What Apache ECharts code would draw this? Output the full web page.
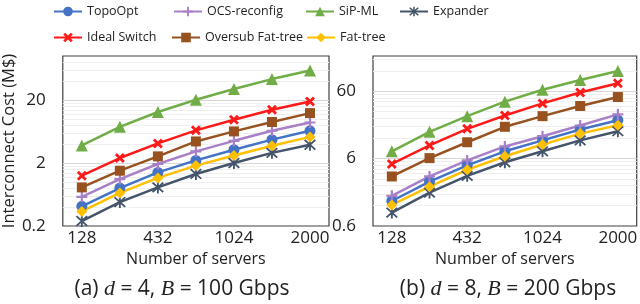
<!DOCTYPE html>
<html>
<head>
<meta charset="utf-8">
<script src="https://cdn.jsdelivr.net/npm/echarts@6/dist/echarts.min.js"></script>
<style>
  html, body { margin: 0; padding: 0; background: #fff; }
  #chart { width: 640px; height: 304px; }
</style>
</head>
<body>
<div id="chart"></div>
<script>
// number of servers (k^3/4), every other one labelled
const servers = ["128", "250", "432", "686", "1024", "1458", "2000"];

// (a) d = 4, B = 100 Gbps
const topoA    = [0.41, 0.80, 1.42, 2.2, 3.25, 4.7, 6.5];
const ocsA     = [0.58, 1.11, 1.93, 3.06, 4.5, 6.5, 8.8];
const sipA     = [3.8, 7.5, 12.9, 20.2, 30, 43, 59];
const expA     = [0.24, 0.48, 0.82, 1.34, 2.0, 2.9, 3.9];
const idealA   = [1.26, 2.4, 4.1, 6.6, 9.7, 14, 19];
const oversubA = [0.82, 1.51, 2.55, 4.4, 6.35, 8.95, 12.4];
const fatA     = [0.34, 0.67, 1.16, 1.82, 2.64, 3.77, 5.2];

// (b) d = 8, B = 200 Gbps
const topoB    = [1.41, 2.74, 4.77, 7.7, 11.2, 16.2, 22.3];
const ocsB     = [1.68, 3.26, 5.65, 9.1, 12.9, 18.6, 27.2];
const sipB     = [7.7, 15, 25.6, 42, 63, 88, 120];
const expB     = [0.95, 1.88, 3.33, 5.3, 7.7, 11.2, 15.3];
const idealB   = [5.0, 9.4, 16.6, 26.2, 39.6, 57.4, 78.8];
const oversubB = [3.26, 6.1, 10.5, 17.8, 25.6, 36.2, 49.2];
const fatB     = [1.23, 2.3, 4.1, 6.5, 9.7, 14.1, 18.8];

// y ticks
const labelsA = [0.2, 2, 20];
const majorA  = [2, 20];
const minorA  = [0.4, 0.6, 0.8, 1.0, 1.2, 1.4, 1.6, 1.8, 4, 6, 8, 10, 12, 14, 16, 18, 40, 60, 80];
const labelsB = [0.6, 6, 60];
const majorB  = [6, 60];
const minorB  = [1.2, 1.8, 2.4, 3.0, 3.6, 4.2, 4.8, 5.4, 12, 18, 24, 30, 36, 42, 48, 54, 120, 180];

const FONT = "Open Sans";
const TXT = "#222";

const plusPath = "path://M4,0H6V4H10V6H6V10H4V6H0V4H4Z";
const xPath = "path://M0,2L2,0L5,3L8,0L10,2L7,5L10,8L8,10L5,7L2,10L0,8L3,5Z";
const starPath = "path://M4.3,0H5.7V10H4.3Z M0.5,1.5L1.5,0.5L9.5,8.5L8.5,9.5Z M8.5,0.5L9.5,1.5L1.5,9.5L0.5,8.5Z";

const styles = {
  "TopoOpt":          { color: "#4472C4", symbol: "circle", size: 11 },
  "OCS-reconfig":     { color: "#A880C8", symbol: plusPath, size: 11 },
  "SiP-ML":           { color: "#70AD47", symbol: "triangle", size: 12 },
  "Expander":         { color: "#44546A", symbol: starPath, size: 12 },
  "Ideal Switch":     { color: "#FF1A1A", symbol: xPath, size: 10 },
  "Oversub Fat-tree": { color: "#97521F", symbol: "rect", size: 10 },
  "Fat-tree":         { color: "#FFC000", symbol: "diamond", size: 11 }
};

const seriesA = {
  "TopoOpt": topoA, "OCS-reconfig": ocsA, "SiP-ML": sipA, "Expander": expA,
  "Ideal Switch": idealA, "Oversub Fat-tree": oversubA, "Fat-tree": fatA
};
const seriesB = {
  "TopoOpt": topoB, "OCS-reconfig": ocsB, "SiP-ML": sipB, "Expander": expB,
  "Ideal Switch": idealB, "Oversub Fat-tree": oversubB, "Fat-tree": fatB
};

function makeSeries(data, xi, yi) {
  return Object.keys(data).map(name => ({
    name: name,
    type: "line",
    xAxisIndex: xi,
    yAxisIndex: yi,
    data: data[name],
    symbol: styles[name].symbol,
    symbolSize: styles[name].size,
    showAllSymbol: true,
    lineStyle: { width: 2.5, color: styles[name].color },
    itemStyle: { color: styles[name].color },
    animation: false
  }));
}

const legendPos = [
  ["TopoOpt", 53, 5], ["OCS-reconfig", 173, 5], ["SiP-ML", 305, 5], ["Expander", 399, 5],
  ["Ideal Switch", 53, 31], ["Oversub Fat-tree", 171, 31], ["Fat-tree", 306, 31]
];

function xAxisFor(gi) {
  return {
    type: "category", gridIndex: gi, data: servers, boundaryGap: true,
    axisLine: { show: false }, axisTick: { show: false },
    axisLabel: { interval: 1, margin: 4, fontSize: 17, fontFamily: FONT, color: TXT },
    name: "Number of servers", nameLocation: "middle", nameGap: 19,
    nameTextStyle: { fontSize: 16, fontFamily: FONT, color: TXT }
  };
}

function minorAxis(gi, min, max, vals) {
  return {
    type: "log", logBase: 10, gridIndex: gi, position: "left", min: min, max: max, z: 0,
    axisLine: { show: false },
    axisTick: { show: false, customValues: vals },
    axisLabel: { show: false },
    splitLine: { show: true, lineStyle: { color: "#EFEFEF", width: 1 } }
  };
}

function majorAxis(gi, min, max, ticks, labels, extra) {
  return Object.assign({
    type: "log", logBase: 10, gridIndex: gi, position: "left", min: min, max: max, z: 1,
    axisLine: { show: false },
    axisTick: { show: false, customValues: ticks },
    axisLabel: {
      customValues: labels, margin: 17, fontSize: 17, fontFamily: FONT, color: TXT,
      formatter: v => String(+(+v).toPrecision(3))
    },
    splitLine: { show: true, lineStyle: { color: "#D6D6D6", width: 1 } }
  }, extra || {});
}

function subtitle(x, text) {
  return {
    type: "text", x: x, y: 289,
    style: {
      text: text,
      align: "center", verticalAlign: "middle", textAlign: "center", textVerticalAlign: "middle",
      fill: TXT, fontSize: 21, fontFamily: FONT,
      rich: { i: { fontStyle: "italic", fontFamily: "Liberation Serif", fontSize: 22, fill: TXT } }
    }
  };
}

const chart = echarts.init(document.getElementById("chart"), null, { renderer: "canvas" });

chart.setOption({
  animation: false,
  backgroundColor: "#fff",
  legend: legendPos.map(p => ({
    data: [p[0]], left: p[1], top: p[2], padding: 0,
    itemWidth: 28, itemHeight: 12, itemGap: 0, selectedMode: false,
    textStyle: { fontSize: 12.5, fontFamily: FONT, color: TXT }
  })),
  grid: [
    { left: 61, top: 56, width: 268, height: 170, show: true, borderColor: "#404040", borderWidth: 1.2, backgroundColor: "transparent" },
    { left: 373, top: 56, width: 268, height: 170, show: true, borderColor: "#404040", borderWidth: 1.2, backgroundColor: "transparent" }
  ],
  xAxis: [xAxisFor(0), xAxisFor(1)],
  yAxis: [
    minorAxis(0, 0.2, 100, minorA),
    majorAxis(0, 0.2, 100, majorA, labelsA, {
      name: "Interconnect Cost (M$)", nameLocation: "middle", nameGap: 34, nameRotate: 90,
      nameTextStyle: { fontSize: 16.5, fontFamily: FONT, color: TXT }
    }),
    minorAxis(1, 0.6, 200, minorB),
    majorAxis(1, 0.6, 200, majorB, labelsB)
  ],
  graphic: [
    subtitle(182, "(a) {i|d} = 4, {i|B} = 100 Gbps"),
    subtitle(508, "(b) {i|d} = 8, {i|B} = 200 Gbps")
  ],
  series: makeSeries(seriesA, 0, 1).concat(makeSeries(seriesB, 1, 3))
});
</script>
</body>
</html>
